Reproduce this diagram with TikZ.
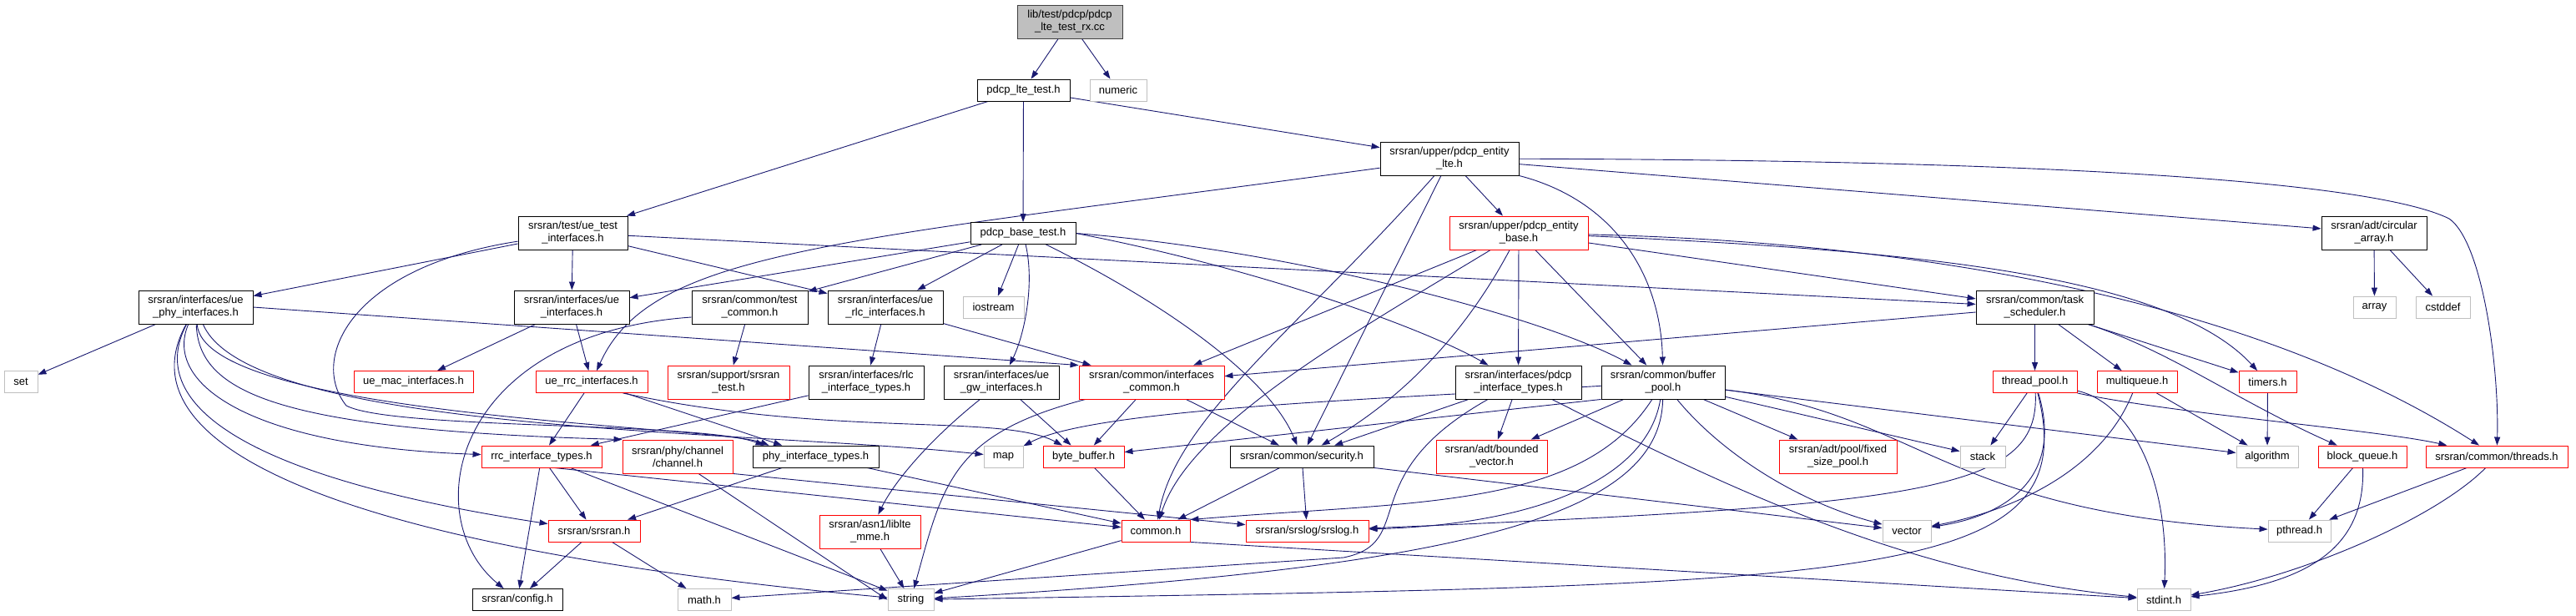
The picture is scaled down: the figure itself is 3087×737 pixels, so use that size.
\documentclass[tikz,border=0pt]{standalone}
\usepackage{fontspec}
\setmainfont{Liberation Sans}
\usetikzlibrary{arrows.meta}
\definecolor{edgeblue}{HTML}{191970}
\definecolor{greyfill}{HTML}{BFBFBF}
\definecolor{darkborder}{HTML}{404040}
\pgfdeclarelayer{bg}
\pgfsetlayers{bg,main}
\newcommand\fsz{\fontsize{13pt}{15pt}\selectfont}
\newcommand\mkbox[7]{\node[#2,minimum width=#5pt,minimum height=#6pt] (#1) at (#3,#4) {#7};}
\tikzset{
  nbox/.style={draw=black, line width=0.9pt, fill=white, inner sep=0pt, align=center, font=\fsz},
  rbox/.style={nbox, draw=red},
  gbox/.style={nbox, draw=greyfill},
  rootbox/.style={nbox, fill=greyfill, draw=darkborder},
  conn/.style={draw=edgeblue, line width=0.9pt, -{Triangle[length=10pt,width=7pt]}}
}
\begin{document}
\begin{tikzpicture}[x=1pt,y=-1pt]
\useasboundingbox (0,0) rectangle (3087,737);
\begin{pgfonlayer}{bg}
\fill[white] (0,0) rectangle (3087,737);
\end{pgfonlayer}
% nodes
\mkbox{root}{rootbox}{1282}{26}{126}{40}{lib/test/pdcp/pdcp\\\_lte\_test\_rx.cc}
\mkbox{ltetest}{nbox}{1226.5}{108}{111}{26}{pdcp\_lte\_test.h}
\mkbox{numeric}{gbox}{1340}{108}{68}{26}{numeric}
\mkbox{uetest}{nbox}{686.5}{279}{131}{40}{srsran/test/ue\_test\\\_interfaces.h}
\mkbox{basetest}{nbox}{1226}{279.5}{126}{26}{pdcp\_base\_test.h}
\mkbox{entlte}{nbox}{1737}{190}{166}{40}{srsran/upper/pdcp\_entity\\\_lte.h}
\mkbox{entbase}{rbox}{1820}{279}{166}{40}{srsran/upper/pdcp\_entity\\\_base.h}
\mkbox{circ}{nbox}{2845}{279}{126}{40}{srsran/adt/circular\\\_array.h}
\mkbox{uephy}{nbox}{234.5}{368}{137}{40}{srsran/interfaces/ue\\\_phy\_interfaces.h}
\mkbox{ueif}{nbox}{685}{368}{138}{40}{srsran/interfaces/ue\\\_interfaces.h}
\mkbox{testcommon}{nbox}{898.5}{368}{139}{40}{srsran/common/test\\\_common.h}
\mkbox{uerlc}{nbox}{1061}{368}{138}{40}{srsran/interfaces/ue\\\_rlc\_interfaces.h}
\mkbox{iostream}{gbox}{1190.5}{368}{73}{26}{iostream}
\mkbox{tasksch}{nbox}{2438.5}{368}{141}{40}{srsran/common/task\\\_scheduler.h}
\mkbox{array}{gbox}{2845.5}{368}{51}{26}{array}
\mkbox{cstddef}{gbox}{2927.5}{368}{65}{26}{cstddef}
\mkbox{set}{gbox}{25}{457.5}{40}{26}{set}
\mkbox{uemac}{rbox}{495.5}{457.5}{143}{26}{ue\_mac\_interfaces.h}
\mkbox{uerrc}{rbox}{709}{457.5}{134}{26}{ue\_rrc\_interfaces.h}
\mkbox{srsrantest}{rbox}{873}{458}{146}{40}{srsran/support/srsran\\\_test.h}
\mkbox{rlctypes}{nbox}{1038}{458}{138}{40}{srsran/interfaces/rlc\\\_interface\_types.h}
\mkbox{uegw}{nbox}{1200}{458}{138}{40}{srsran/interfaces/ue\\\_gw\_interfaces.h}
\mkbox{ifcommon}{rbox}{1380}{458}{174}{40}{srsran/common/interfaces\\\_common.h}
\mkbox{pdcptypes}{nbox}{1819.5}{458}{151}{40}{srsran/interfaces/pdcp\\\_interface\_types.h}
\mkbox{bufpool}{nbox}{1993}{458}{148}{40}{srsran/common/buffer\\\_pool.h}
\mkbox{threadpool}{rbox}{2438.5}{457.5}{101}{26}{thread\_pool.h}
\mkbox{multiqueue}{rbox}{2561}{457.5}{96}{26}{multiqueue.h}
\mkbox{timers}{rbox}{2717.5}{457.5}{69}{26}{timers.h}
\mkbox{rrctypes}{rbox}{649}{547}{144}{26}{rrc\_interface\_types.h}
\mkbox{channel}{rbox}{812}{547}{132}{40}{srsran/phy/channel\\/channel.h}
\mkbox{phytypes}{nbox}{977.5}{547}{151}{26}{phy\_interface\_types.h}
\mkbox{map}{gbox}{1202.5}{547}{47}{26}{map}
\mkbox{bytebuf}{rbox}{1298.5}{547}{97}{26}{byte\_buffer.h}
\mkbox{security}{nbox}{1560}{547}{172}{26}{srsran/common/security.h}
\mkbox{boundedvec}{rbox}{1787.5}{547}{133}{40}{srsran/adt/bounded\\\_vector.h}
\mkbox{fixedpool}{rbox}{2202.5}{547}{141}{40}{srsran/adt/pool/fixed\\\_size\_pool.h}
\mkbox{stack}{gbox}{2376}{547}{54}{26}{stack}
\mkbox{algorithm}{gbox}{2717}{547}{74}{26}{algorithm}
\mkbox{blockq}{rbox}{2831}{547}{106}{26}{block\_queue.h}
\mkbox{threads}{rbox}{2992}{547}{170}{26}{srsran/common/threads.h}
\mkbox{srsranh}{rbox}{712}{636}{110}{26}{srsran/srsran.h}
\mkbox{liblte}{rbox}{1042.5}{637}{121}{40}{srsran/asn1/liblte\\\_mme.h}
\mkbox{common}{rbox}{1385}{636}{82}{26}{common.h}
\mkbox{srslog}{rbox}{1566.5}{636}{147}{26}{srsran/srslog/srslog.h}
\mkbox{vector}{gbox}{2285}{636}{58}{26}{vector}
\mkbox{pthread}{gbox}{2755.5}{636}{75}{26}{pthread.h}
\mkbox{config}{nbox}{620}{718.5}{108}{26}{srsran/config.h}
\mkbox{math}{gbox}{844}{718.5}{64}{26}{math.h}
\mkbox{string}{gbox}{1091.5}{718.5}{55}{26}{string}
\mkbox{stdint}{gbox}{2593}{718.5}{64}{26}{stdint.h}
% edges
\begin{pgfonlayer}{bg}
\draw[conn] (root) -- (ltetest);
\draw[conn] (root) -- (numeric);
\draw[conn] (ltetest) -- (uetest);
\draw[conn] (ltetest) -- (basetest);
\draw[conn] (ltetest) -- (entlte);
\draw[conn] (uetest) -- (uephy);
\draw[conn] (uetest) -- (ueif);
\draw[conn] (uetest) -- (uerlc);
\draw[conn] (uetest) -- (tasksch);
\draw[conn] (uetest) .. controls (420,320) and (370,430) .. (415,486) .. controls (470,515) and (840,505) .. ([xshift=14pt]phytypes.north west);
\draw[conn] (basetest) -- (ueif);
\draw[conn] (basetest) -- (testcommon);
\draw[conn] (basetest) -- (uerlc);
\draw[conn] (basetest) -- (iostream);
\draw[conn] (basetest) .. controls (1240,340) and (1228,400) .. (uegw);
\draw[conn] (basetest) .. controls (1390,360) and (1520,450) .. (security);
\draw[conn] (basetest.east) .. controls (1500,320) and (1700,390) .. (pdcptypes);
\draw[conn] (basetest.east) .. controls (1550,300) and (1850,380) .. (bufpool);
\draw[conn] (entlte) -- (entbase);
\draw[conn] (entlte) .. controls (1000,290) and (780,300) .. (uerrc);
\draw[conn] (entlte) .. controls (1560,390) and (1410,500) .. (common);
\draw[conn] (entlte) -- (security);
\draw[conn] (entlte.south east) .. controls (1935,240) and (1990,330) .. (bufpool);
\draw[conn] (entlte) -- (circ);
\draw[conn] (entlte) .. controls (2500,192) and (2850,220) .. (2935,262) .. controls (2975,290) and (2995,440) .. (threads);
\draw[conn] (entbase) -- (ifcommon);
\draw[conn] (entbase) .. controls (1620,400) and (1425,510) .. (common);
\draw[conn] (entbase) .. controls (1745,420) and (1660,490) .. (security);
\draw[conn] (entbase) -- (pdcptypes);
\draw[conn] (entbase) -- (bufpool);
\draw[conn] (entbase) -- (tasksch);
\draw[conn] (entbase) .. controls (2300,300) and (2600,330) .. (timers);
\draw[conn] (entbase) .. controls (2300,290) and (2700,360) .. (threads);
\draw[conn] (tasksch) -- (ifcommon);
\draw[conn] (tasksch) -- (threadpool);
\draw[conn] (tasksch) -- (multiqueue);
\draw[conn] (tasksch) -- (timers);
\draw[conn] (tasksch) .. controls (2600,420) and (2680,480) .. (blockq);
\draw[conn] (threadpool) -- (stack);
\draw[conn] (threadpool) .. controls (2470,560) and (2420,615) .. (vector);
\draw[conn] (threadpool) .. controls (2445,590) and (2300,605) .. (srslog);
\draw[conn] (threadpool) .. controls (2500,700) and (2250,700) .. (string);
\draw[conn] (threadpool.south east) .. controls (2600,495) and (2850,515) .. (threads);
\draw[conn] (threadpool) .. controls (2545,480) and (2600,560) .. (stdint);
\draw[conn] (multiqueue) -- (algorithm);
\draw[conn] (multiqueue) .. controls (2520,560) and (2420,610) .. (vector);
\draw[conn] (timers) -- (algorithm);
\draw[conn] (blockq) -- (pthread);
\draw[conn] (blockq) .. controls (2835,660) and (2760,700) .. (stdint);
\draw[conn] (threads) -- (pthread);
\draw[conn] (threads) .. controls (2920,620) and (2760,690) .. (stdint);
\draw[conn] (circ) -- (array);
\draw[conn] (circ) -- (cstddef);
\draw[conn] (bufpool) .. controls (1650,478) and (1310,490) .. (map);
\draw[conn] (bufpool.south west) -- (bytebuf);
\draw[conn] (bufpool) -- (boundedvec);
\draw[conn] (bufpool) .. controls (1895,610) and (1700,600) .. (common.north east);
\draw[conn] (bufpool) .. controls (1975,570) and (1850,628) .. (srslog);
\draw[conn] (bufpool) .. controls (1990,620) and (1750,680) .. (string);
\draw[conn] (bufpool) .. controls (2060,540) and (2150,600) .. (vector);
\draw[conn] (bufpool) -- (fixedpool);
\draw[conn] (bufpool) -- (stack);
\draw[conn] (bufpool) -- (algorithm);
\draw[conn] (bufpool) .. controls (2300,495) and (2330,615) .. (pthread);
\draw[conn] (pdcptypes) -- (security);
\draw[conn] (pdcptypes) -- (boundedvec);
\draw[conn] (pdcptypes) .. controls (2100,600) and (2300,690) .. (stdint);
\draw[conn] (pdcptypes) .. controls (1620,570) and (1700,650) .. (1610,668) -- (math);
\draw[conn] (security) -- (common);
\draw[conn] (security) -- (srslog);
\draw[conn] (security.south east) -- (vector);
\draw[conn] (ifcommon) -- (bytebuf);
\draw[conn] (ifcommon) -- (security);
\draw[conn] (ifcommon) .. controls (1140,520) and (1130,580) .. (string);
\draw[conn] (uegw) .. controls (1110,530) and (1070,580) .. (liblte);
\draw[conn] (uegw) -- (bytebuf);
\draw[conn] (bytebuf) -- (common);
\draw[conn] (common) -- (string);
\draw[conn] (common.south east) -- (stdint);
\draw[conn] (liblte) -- (string);
\draw[conn] (uerlc) -- (rlctypes);
\draw[conn] (uerlc) -- (ifcommon);
\draw[conn] (rlctypes) -- (rrctypes);
\draw[conn] (uerrc) -- (rrctypes);
\draw[conn] (uerrc) -- (phytypes);
\draw[conn] ([xshift=-30pt]uerrc.south east) .. controls (1000,525) and (1200,495) .. (bytebuf);
\draw[conn] (uephy) -- (set);
\draw[conn] (uephy.east) -- (ifcommon.north west);
\draw[conn] (uephy) .. controls (195,460) and (300,535) .. (rrctypes);
\draw[conn] (uephy) .. controls (175,480) and (280,570) .. (srsranh);
\draw[conn] (uephy) .. controls (150,520) and (350,650) .. (string);
\draw[conn] (uephy) .. controls (238,470) and (330,515) .. (channel.north west);
\draw[conn] (uephy) .. controls (245,500) and (860,510) .. ([xshift=20pt]phytypes.north west);
\draw[conn] (uephy) .. controls (300,520) and (900,515) .. (map);
\draw[conn] (ueif) -- (uemac);
\draw[conn] (ueif) -- (uerrc);
\draw[conn] (testcommon) -- (srsrantest);
\draw[conn] ([yshift=-12pt]testcommon.west) .. controls (540,400) and (500,620) .. (config);
\draw[conn] (rrctypes) -- (config);
\draw[conn] (rrctypes) -- (srsranh);
\draw[conn] (rrctypes) -- (string);
\draw[conn] ([xshift=15pt]rrctypes.south) -- (common);
\draw[conn] (channel.south east) -- (srslog);
\draw[conn] ([xshift=25pt]channel.south) -- (string.west);
\draw[conn] (phytypes) -- (srsranh);
\draw[conn] (phytypes) -- (common);
\draw[conn] (srsranh) -- (config);
\draw[conn] (srsranh) -- (math);
\end{pgfonlayer}
\end{tikzpicture}
\end{document}
